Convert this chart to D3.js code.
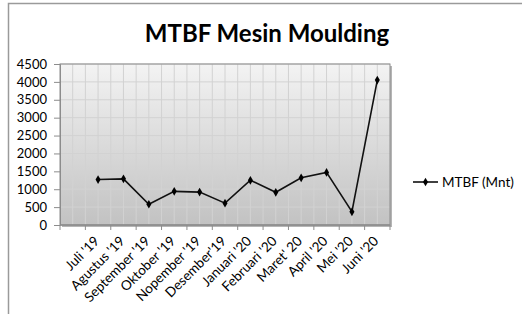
<!DOCTYPE html>
<html>
<head>
<meta charset="utf-8">
<script src="https://cdnjs.cloudflare.com/ajax/libs/d3/7.8.5/d3.min.js"></script>
<style>
    body { margin: 0; background: #fff; }
    svg text { font-family: Lato, "Open Sans", sans-serif; fill: #000; }
</style>
</head>
<body>
<div id="chart-area"></div>
<script>
// first category is blank in the original sheet
var months = ["", "Juli '19", "Agustus '19", "September '19", "Oktober '19", "Nopember '19", "Desember'19",
    "Januari '20", "Februari '20", "Maret' 20", "April '20", "Mei '20", "Juni '20"];
var mtbf = [null, 1270, 1290, 580, 940, 920, 610, 1250, 915, 1320, 1470, 370, 4050];
var yTicks = [0, 500, 1000, 1500, 2000, 2500, 3000, 3500, 4000, 4500];
var seriesName = "MTBF (Mnt)";
var chartTitle = "MTBF Mesin Moulding";

LineChart = function(_parentElement, _data){
    this.parentElement = _parentElement;
    this.data = _data;
    this.initVis();
};

LineChart.prototype.initVis = function() {
    var vis = this;

    vis.margin = { top: 64, right: 132, bottom: 89, left: 60 };
    vis.width = 522 - vis.margin.left - vis.margin.right;
    vis.height = 314 - vis.margin.top - vis.margin.bottom;

    vis.root = d3.select("#" + vis.parentElement)
        .append("svg")
        .attr("width", 522)
        .attr("height", 314);

    // outer chart frame, runs off the right and bottom of the picture
    vis.root.append("rect")
        .attr("x", 8.5).attr("y", 3.5)
        .attr("width", 600).attr("height", 400)
        .attr("fill", "none")
        .attr("stroke", "#9a9a9a")
        .attr("stroke-width", 1.5);

    var grad = vis.root.append("defs").append("linearGradient")
        .attr("id", "plot-bg")
        .attr("x1", 0).attr("y1", 0).attr("x2", 0).attr("y2", 1);
    grad.append("stop").attr("offset", "0%").attr("stop-color", "#f3f3f3");
    grad.append("stop").attr("offset", "100%").attr("stop-color", "#c2c2c2");

    vis.root.append("text")
        .attr("x", 267)
        .attr("y", 42)
        .attr("text-anchor", "middle")
        .style("font-size", "24px")
        .style("font-weight", "bold")
        .text(chartTitle);

    vis.svg = vis.root.append("g")
        .attr("transform", "translate(" + vis.margin.left + "," + vis.margin.top + ")");

    vis.xScale = d3.scaleBand()
        .range([0, vis.width])
        .domain(d3.range(months.length));

    vis.yScale = d3.scaleLinear()
        .range([vis.height, 0])
        .domain([0, 4500]);

    vis.wrangleData();
};

LineChart.prototype.wrangleData = function() {
    var vis = this;
    vis.displayData = vis.data.map(function(d, i) {
        return { i: i, label: months[i], value: d };
    }).filter(function(d) { return d.value !== null; });
    vis.updateVis();
};

LineChart.prototype.updateVis = function() {
    var vis = this;
    var bw = vis.xScale.bandwidth();

    // shadow + background
    vis.svg.append("rect")
        .attr("x", 2).attr("y", 2)
        .attr("width", vis.width).attr("height", vis.height)
        .attr("fill", "#b5b5b5");
    vis.svg.append("rect")
        .attr("width", vis.width).attr("height", vis.height)
        .attr("fill", "url(#plot-bg)");

    // vertical gridlines every half category
    var vLines = d3.range(1, months.length * 2).map(function(k) { return k * bw / 2; });
    vis.svg.selectAll(".v-grid")
        .data(vLines)
        .enter().append("line")
        .attr("class", "v-grid")
        .attr("x1", function(d) { return d; })
        .attr("x2", function(d) { return d; })
        .attr("y1", 0).attr("y2", vis.height)
        .attr("stroke", "#d2d2d2")
        .attr("stroke-width", 1);

    vis.svg.selectAll(".h-grid")
        .data(yTicks.slice(1))
        .enter().append("line")
        .attr("class", "h-grid")
        .attr("x1", 0).attr("x2", vis.width)
        .attr("y1", function(d) { return vis.yScale(d); })
        .attr("y2", function(d) { return vis.yScale(d); })
        .attr("stroke", "#d2d2d2")
        .attr("stroke-width", 1);

    vis.svg.append("rect")
        .attr("width", vis.width).attr("height", vis.height)
        .attr("fill", "none")
        .attr("stroke", "#8c8c8c")
        .attr("stroke-width", 1);

    vis.yAxis = d3.axisLeft(vis.yScale)
        .tickValues(yTicks)
        .tickFormat(d3.format("d"))
        .tickSize(6)
        .tickPadding(7);

    var yG = vis.svg.append("g").attr("class", "y-axis").call(vis.yAxis);
    yG.select(".domain").attr("stroke", "#8c8c8c");
    yG.selectAll("line").attr("stroke", "#8c8c8c");
    yG.selectAll("text").style("font-size", "13px").attr("font-family", null);

    vis.xAxis = d3.axisBottom(vis.xScale)
        .tickValues(d3.range(1, months.length))
        .tickFormat(function(i) { return months[i]; })
        .tickSize(0);

    var xG = vis.svg.append("g")
        .attr("class", "x-axis")
        .attr("transform", "translate(0," + vis.height + ")")
        .call(vis.xAxis);
    xG.select(".domain").remove();
    xG.selectAll("text")
        .style("font-size", "13.5px")
        .attr("font-family", null)
        .attr("x", 0)
        .attr("y", 0)
        .attr("dy", 0)
        .attr("transform", "translate(2,17) rotate(-45)")
        .style("text-anchor", "end");

    // tick marks on category boundaries
    vis.svg.selectAll(".x-tick")
        .data(d3.range(0, months.length + 1))
        .enter().append("line")
        .attr("class", "x-tick")
        .attr("x1", function(k) { return k * bw; })
        .attr("x2", function(k) { return k * bw; })
        .attr("y1", vis.height).attr("y2", vis.height + 5)
        .attr("stroke", "#8c8c8c");
    vis.svg.append("line")
        .attr("x1", 0).attr("x2", vis.width)
        .attr("y1", vis.height).attr("y2", vis.height)
        .attr("stroke", "#8c8c8c").attr("stroke-width", 1.5);

    var line = d3.line()
        .x(function(d) { return vis.xScale(d.i) + bw / 2; })
        .y(function(d) { return vis.yScale(d.value); });

    vis.svg.append("path")
        .datum(vis.displayData)
        .attr("d", line)
        .attr("fill", "none")
        .attr("stroke", "#111")
        .attr("stroke-width", 1.6);

    var diamond = d3.symbol().type(d3.symbolDiamond).size(22);

    vis.svg.selectAll(".pt")
        .data(vis.displayData)
        .enter().append("path")
        .attr("class", "pt")
        .attr("d", diamond)
        .attr("transform", function(d) {
            return "translate(" + (vis.xScale(d.i) + bw / 2) + "," + vis.yScale(d.value) + ")";
        })
        .attr("fill", "#000");

    // legend
    var lg = vis.root.append("g").attr("transform", "translate(413,182)");
    lg.append("line").attr("x1", 0).attr("x2", 25).attr("y1", 0).attr("y2", 0)
        .attr("stroke", "#111").attr("stroke-width", 1.6);
    lg.append("path").attr("d", diamond).attr("transform", "translate(12.5,0)").attr("fill", "#000");
    lg.append("text").attr("x", 29).attr("y", 4.5)
        .style("font-size", "13.5px")
        .text(seriesName);
};

var chart = new LineChart("chart-area", mtbf);
</script>
</body>
</html>
